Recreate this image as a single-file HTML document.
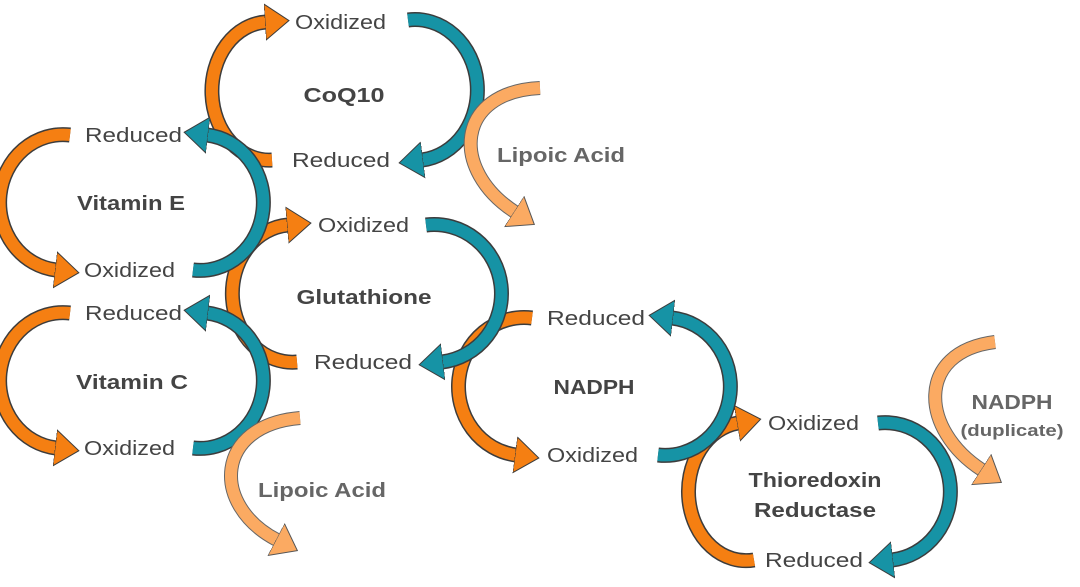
<!DOCTYPE html>
<html><head><meta charset="utf-8"><style>
html,body{margin:0;padding:0;background:#fff;}
svg{display:block;}
text{font-family:"Liberation Sans",sans-serif;fill:#444;}
.l{font-size:20px;}
.b{font-size:20px;font-weight:bold;text-anchor:middle;}
.o{stroke:#3c3c3c;stroke-width:15;fill:none;}
</style></head><body>
<svg width="1080" height="587" viewBox="0 0 1080 587" xmlns="http://www.w3.org/2000/svg">
<defs>
<marker id="mo" markerUnits="userSpaceOnUse" markerWidth="40" markerHeight="44" refX="1" refY="20" orient="auto"><polygon points="0,2 24,20 0,38" fill="#f57f12" stroke="#3c3c3c" stroke-width="1"/></marker>
<marker id="mt" markerUnits="userSpaceOnUse" markerWidth="40" markerHeight="44" refX="1" refY="20" orient="auto"><polygon points="0,2 24,20 0,38" fill="#1693a5" stroke="#3c3c3c" stroke-width="1"/></marker>
<marker id="ml" markerUnits="userSpaceOnUse" markerWidth="40" markerHeight="44" refX="1" refY="20" orient="auto"><polygon points="0,2 24,20 0,38" fill="#fbaa62" stroke="#555" stroke-width="1"/></marker>
</defs>
<!-- orange -->
<path class="o" d="M272,160 A57,69 0 0 1 266,22"/><path d="M272,160 A57,69 0 0 1 266,22" stroke="#f57f12" stroke-width="12" fill="none" marker-end="url(#mo)"/>
<path class="o" d="M70,135 A63,67.5 0 0 0 56,270"/><path d="M70,135 A63,67.5 0 0 0 56,270" stroke="#f57f12" stroke-width="12" fill="none" marker-end="url(#mo)"/>
<path class="o" d="M297,362 A60,68.5 0 0 1 288,225"/><path d="M297,362 A60,68.5 0 0 1 288,225" stroke="#f57f12" stroke-width="12" fill="none" marker-end="url(#mo)"/>
<path class="o" d="M70,313 A63,67.5 0 0 0 56,448"/><path d="M70,313 A63,67.5 0 0 0 56,448" stroke="#f57f12" stroke-width="12" fill="none" marker-end="url(#mo)"/>
<path class="o" d="M532,318 A65,68.5 0 0 0 516,455"/><path d="M532,318 A65,68.5 0 0 0 516,455" stroke="#f57f12" stroke-width="12" fill="none" marker-end="url(#mo)"/>
<path class="o" d="M754,560 A57,68.5 0 0 1 738,423"/><path d="M754,560 A57,68.5 0 0 1 738,423" stroke="#f57f12" stroke-width="12" fill="none" marker-end="url(#mo)"/>
<!-- teal -->
<path class="o" d="M408,20 A62,70 0 0 1 422,160"/><path d="M408,20 A62,70 0 0 1 422,160" stroke="#1693a5" stroke-width="12" fill="none" marker-end="url(#mt)"/>
<path class="o" d="M193,270 A63,67.5 0 0 0 207,135"/><path d="M193,270 A63,67.5 0 0 0 207,135" stroke="#1693a5" stroke-width="12" fill="none" marker-end="url(#mt)"/>
<path class="o" d="M426,225 A67,68.5 0 0 1 442,362"/><path d="M426,225 A67,68.5 0 0 1 442,362" stroke="#1693a5" stroke-width="12" fill="none" marker-end="url(#mt)"/>
<path class="o" d="M193,448 A63,67.5 0 0 0 207,313"/><path d="M193,448 A63,67.5 0 0 0 207,313" stroke="#1693a5" stroke-width="12" fill="none" marker-end="url(#mt)"/>
<path class="o" d="M658,455 A65,68.5 0 0 0 672,318"/><path d="M658,455 A65,68.5 0 0 0 672,318" stroke="#1693a5" stroke-width="12" fill="none" marker-end="url(#mt)"/>
<path class="o" d="M878,423 A65,68.5 0 0 1 892,560"/><path d="M878,423 A65,68.5 0 0 1 892,560" stroke="#1693a5" stroke-width="12" fill="none" marker-end="url(#mt)"/>
<!-- light orange -->
<path d="M540,88 C455,92 450,170 515,212" stroke="#666" stroke-width="14" fill="none"/><path d="M540,88 C455,92 450,170 515,212" stroke="#fbaa62" stroke-width="12" fill="none" marker-end="url(#ml)"/>
<path d="M300,418 C215,425 210,505 277,540" stroke="#666" stroke-width="14" fill="none"/><path d="M300,418 C215,425 210,505 277,540" stroke="#fbaa62" stroke-width="12" fill="none" marker-end="url(#ml)"/>
<path d="M995,342 C915,352 920,430 982,470" stroke="#666" stroke-width="14" fill="none"/><path d="M995,342 C915,352 920,430 982,470" stroke="#fbaa62" stroke-width="12" fill="none" marker-end="url(#ml)"/>

<text class="l" x="295" y="29" textLength="91" lengthAdjust="spacingAndGlyphs">Oxidized</text>
<text class="l" x="292" y="167" textLength="98" lengthAdjust="spacingAndGlyphs">Reduced</text>
<text class="b" x="344" y="102" textLength="81" lengthAdjust="spacingAndGlyphs">CoQ10</text>
<text class="l" x="85" y="142" textLength="97" lengthAdjust="spacingAndGlyphs">Reduced</text>
<text class="b" x="131" y="210" textLength="108" lengthAdjust="spacingAndGlyphs">Vitamin E</text>
<text class="l" x="84" y="277" textLength="91" lengthAdjust="spacingAndGlyphs">Oxidized</text>
<text class="l" x="318" y="232" textLength="91" lengthAdjust="spacingAndGlyphs">Oxidized</text>
<text class="b" x="364" y="304" textLength="135" lengthAdjust="spacingAndGlyphs">Glutathione</text>
<text class="l" x="314" y="369" textLength="98" lengthAdjust="spacingAndGlyphs">Reduced</text>
<text class="l" x="85" y="320" textLength="97" lengthAdjust="spacingAndGlyphs">Reduced</text>
<text class="b" x="132" y="389" textLength="112" lengthAdjust="spacingAndGlyphs">Vitamin C</text>
<text class="l" x="84" y="455" textLength="91" lengthAdjust="spacingAndGlyphs">Oxidized</text>
<text class="b" x="561" y="162" textLength="128" lengthAdjust="spacingAndGlyphs" style="fill:#666">Lipoic Acid</text>
<text class="b" x="322" y="497" textLength="128" lengthAdjust="spacingAndGlyphs" style="fill:#666">Lipoic Acid</text>
<text class="l" x="547" y="325" textLength="98" lengthAdjust="spacingAndGlyphs">Reduced</text>
<text class="b" x="594" y="394" textLength="81" lengthAdjust="spacingAndGlyphs">NADPH</text>
<text class="l" x="547" y="462" textLength="91" lengthAdjust="spacingAndGlyphs">Oxidized</text>
<text class="l" x="768" y="430" textLength="91" lengthAdjust="spacingAndGlyphs">Oxidized</text>
<text class="b" x="815" y="487" textLength="133" lengthAdjust="spacingAndGlyphs">Thioredoxin</text>
<text class="b" x="815" y="517" textLength="122" lengthAdjust="spacingAndGlyphs">Reductase</text>
<text class="l" x="765" y="567" textLength="98" lengthAdjust="spacingAndGlyphs">Reduced</text>
<text class="b" x="1012" y="409" textLength="81" lengthAdjust="spacingAndGlyphs" style="fill:#666">NADPH</text>
<text class="b" x="1012" y="436" textLength="103" lengthAdjust="spacingAndGlyphs" style="fill:#666;font-size:17px">(duplicate)</text>
</svg>
</body></html>
